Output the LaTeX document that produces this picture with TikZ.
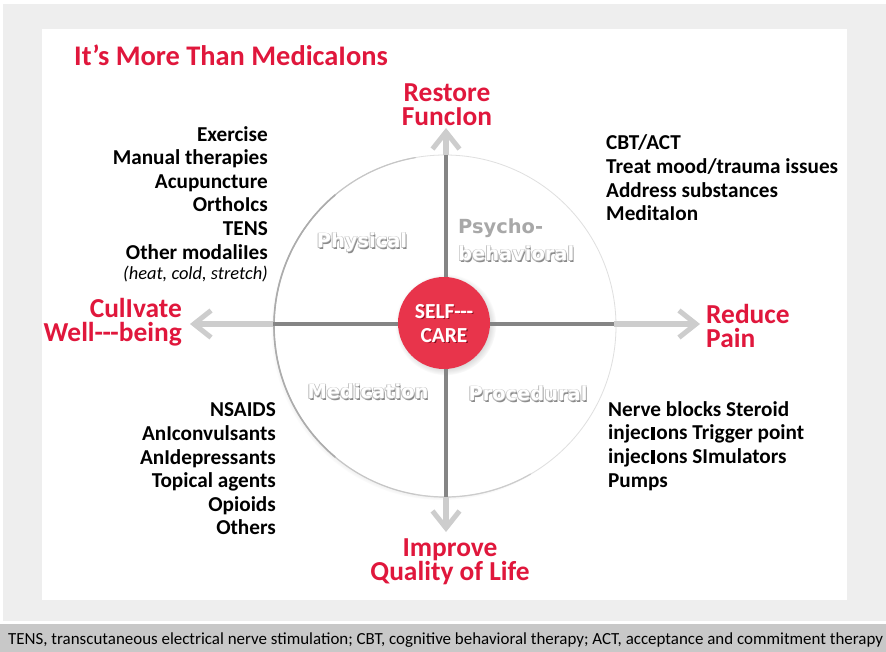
\documentclass[tikz,border=0pt]{standalone}
\usepackage{fontspec}
\setmainfont{Carlito}
\newfontfamily\quadfont{DejaVu Sans}
\usetikzlibrary{arrows.meta,shadows}
\definecolor{redtxt}{HTML}{E0173C}
\definecolor{redfill}{HTML}{E8344B}
\definecolor{redshadow}{HTML}{7A1020}
\definecolor{lightarr}{HTML}{CDCDCD}
\definecolor{darkln}{HTML}{858585}
\definecolor{bggray}{HTML}{EEEEEE}
\definecolor{capbar}{HTML}{C8C8C8}
\definecolor{embA}{HTML}{8A8A8A}
\definecolor{embB}{HTML}{BDBDBD}
\definecolor{psyfill}{HTML}{A8A8A8}
% #1 hard shadow, #2 halo, #3 fill, #4 text
\newcommand\embo[4]{\leavevmode
  \rlap{\hspace{1.1pt}\raisebox{-1.3pt}{\color{#1}#4}}%
  \rlap{\hspace{-0.7pt}\raisebox{0.7pt}{\color{#2}#4}}%
  \rlap{\hspace{0.7pt}\raisebox{0.7pt}{\color{#2}#4}}%
  \rlap{\hspace{-0.7pt}\raisebox{-0.7pt}{\color{#2}#4}}%
  {\color{#3}#4}}
\newcommand\blk{\hspace{1.3pt}\rule{4pt}{0.62em}\hspace{1.3pt}}
\newcommand\thd{-\kern-0.5pt-\kern-0.5pt-}
\tikzset{
  outcome/.style={text=redtxt, font=\fontsize{27.5}{24}\selectfont\bfseries, inner sep=0pt},
  listtxt/.style={text=black, font=\fontsize{21.3}{23.7}\selectfont\bfseries, inner sep=0pt},
  quad/.style={font=\quadfont\bfseries\fontsize{19.5}{22}\selectfont, inner sep=0pt},
  lightarrow/.style={draw=lightarr, line width=5.5bp,
    -{Straight Barb[length=17bp,width=27bp,line width=5bp]}},
  darkseg/.style={draw=darkln, line width=4bp},
  rim/.style={line width=#1, line cap=round},
}
\begin{document}
\begin{tikzpicture}[x=1bp,y=-1bp]
\useasboundingbox (0,0) rectangle (886,652);
% backgrounds
\fill[white] (0,0) rectangle (886,652);
\fill[bggray] (3,4) rectangle (886,621);
\fill[white] (42,29) rectangle (847,600);
\fill[capbar] (0,624) rectangle (886,652);

% big white disk
\fill[white, circular drop shadow={shadow xshift=-3bp, shadow yshift=-3bp, shadow scale=1.0, opacity=0.65}] (445,326) circle[radius=171];
\draw[gray!25, line width=0.8bp] (445,326) circle[radius=171];
% darker rim on the left / lower side (page angles; y axis is flipped)
\draw[gray!45, rim=1.2bp] ([shift={(-100:171)}]445,326) arc[start angle=-100, end angle=-260, radius=171];
\draw[gray!65, rim=1.6bp] ([shift={(-130:171)}]445,326) arc[start angle=-130, end angle=-230, radius=171];
\draw[gray!40, rim=1.2bp] ([shift={(-260:171)}]445,326) arc[start angle=-260, end angle=-300, radius=171];

% axis points
\coordinate (c) at (446,324);
\coordinate (ctop) at (446,155);
\coordinate (cbot) at (446,497);
\coordinate (cleft) at (273,324);
\coordinate (cright) at (614,324);
\coordinate (tipU) at (446,128);
\coordinate (tipD) at (446,532);
\coordinate (tipL) at (190,324);
\coordinate (tipR) at (700,324);

\draw[lightarrow] (ctop) -- (tipU);
\draw[lightarrow] (cbot) -- (tipD);
\draw[lightarrow] (cleft) -- (tipL);
\draw[lightarrow] (cright) -- (tipR);
\draw[darkseg] (ctop) -- (cbot);
\draw[darkseg] (cleft) -- (cright);

% quadrant labels
\node[quad] (phys) at (362,243) {\embo{embA}{embB}{white}{Physical}};
\node[quad, anchor=west] (psy1) at (458,229) {\embo{white}{white}{psyfill}{Psycho-}};
\node[quad, anchor=west] (psy2) at (458,254) {\embo{embA}{embB}{white}{behavioral}};
\node[quad] (medq) at (368,392) {\embo{embA}{embB}{white}{Medication}};
\node[quad] (proc) at (528,394) {\embo{embA}{embB}{white}{Procedural}};

% self-care
\fill[redfill, circular drop shadow={shadow xshift=1.5bp, shadow yshift=-1.5bp, opacity=0.3}] (444,323) circle[radius=46];
\node[align=center, font=\fontsize{21.5}{24}\selectfont\bfseries, inner sep=0pt] (self) at (444,324)
  {\embo{redshadow}{redfill}{white}{SELF\thd}\\\embo{redshadow}{redfill}{white}{CARE}};

% title
\node[anchor=west, text=redtxt, font=\fontsize{28.5}{30}\selectfont\bfseries, inner sep=0pt] (title) at (74,55) {It’s More Than MedicaIons};

% outcomes
\node[outcome, align=center] (restore) at (447,105) {Restore\\FuncIon};
\node[outcome, align=right, anchor=east] (cult) at (182,322) {CulIvate\\Well\thd being};
\node[outcome, align=left, anchor=west] (reduce) at (706,326) {Reduce\\Pain};
\node[outcome, align=center] (improve) at (450,562) {Improve\\Quality of Life};

% lists
\node[listtxt, align=right, anchor=east] (physlist) at (268,204)
  {Exercise\\Manual therapies\\Acupuncture\\OrthoIcs\\TENS\\Other modaliIes\\[-3.5bp]
   {\mdseries\itshape\fontsize{18.5}{20}\selectfont (heat, cold, stretch)}};
\node[listtxt, align=left, anchor=west] (psylist) at (606,178)
  {CBT/ACT\\Treat mood/trauma issues\\Address substances\\MeditaIon};
\node[listtxt, align=right, anchor=east] (medlist) at (276,469)
  {NSAIDS\\AnIconvulsants\\AnIdepressants\\Topical agents\\Opioids\\Others};
\node[listtxt, align=left, anchor=west] (proclist) at (608,446)
  {Nerve blocks Steroid\\injec\blk ons Trigger point\\injec\blk ons SImulators\\Pumps};

% caption
\node[anchor=west, font=\fontsize{17}{18}\selectfont, inner sep=0pt] (caption) at (8,640)
  {TENS, transcutaneous electrical nerve stimulation; CBT, cognitive behavioral therapy; ACT, acceptance and commitment therapy};
\end{tikzpicture}
\end{document}
